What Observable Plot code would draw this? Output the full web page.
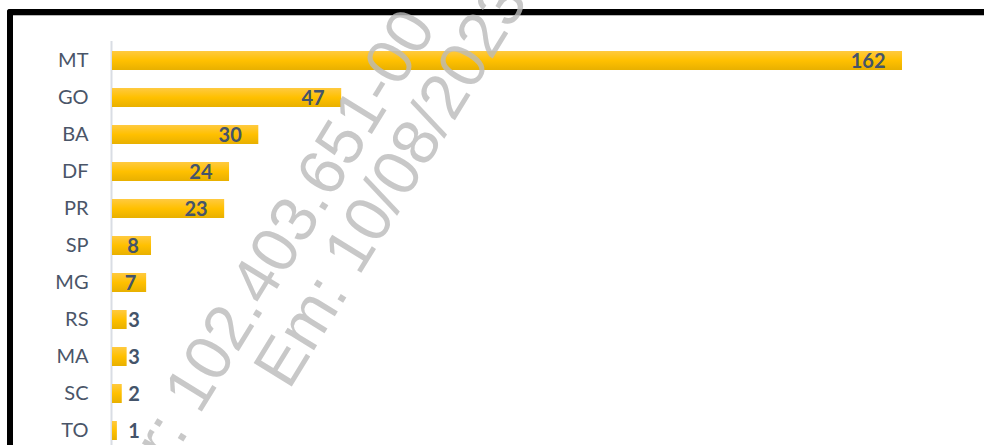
<!DOCTYPE html>
<html>
<head>
<meta charset="utf-8">
<script src="https://cdn.jsdelivr.net/npm/d3@7"></script>
<script src="https://cdn.jsdelivr.net/npm/@observablehq/plot@0.6"></script>
<style>
  html, body { margin: 0; padding: 0; background: #fff; width: 984px; height: 445px; overflow: hidden; }
  #wrap { position: relative; width: 984px; height: 445px; }
  #chart { position: absolute; left: 0; top: 0; }
  #frame { position: absolute; left: 7px; top: 9px; right: -10px; height: 600px;
           border-top: 6px solid #000; border-left: 6px solid #000; border-top-left-radius: 3px;
           box-shadow: inset 0 1px 0 #b8b8b8; pointer-events: none; }
  #wm { position: absolute; left: 0; top: 0; pointer-events: none; }
</style>
</head>
<body>
<div id="wrap">
  <div id="chart"></div>
  <div id="frame"></div>
  <svg id="wm" width="984" height="445">
    <g font-family="Liberation Sans, Arial, sans-serif" font-size="65" fill="#bababa" fill-opacity="0.8">
      <text transform="translate(169,465) rotate(-58.5)">r: 102.403.651-00</text>
      <text transform="translate(289,391) rotate(-58.5)">Em: 10/08/2023</text>
    </g>
  </svg>
</div>
<script>
const states = ["MT", "GO", "BA", "DF", "PR", "SP", "MG", "RS", "MA", "SC", "TO"];
const counts = [162, 47, 30, 24, 23, 8, 7, 3, 3, 2, 1];
const data = states.map((s, i) => ({state: s, n: counts[i]}));

const labelStyle = {fontWeight: "bold", fontSize: 20, fill: "#44546a", fontFamily: "Lato, sans-serif", dy: 1};

const chart = Plot.plot({
  width: 984,
  height: 450,
  marginLeft: 112,
  marginRight: 82,
  marginTop: 41,
  marginBottom: 0,
  style: {fontFamily: "Lato, sans-serif", background: "transparent", overflow: "visible"},
  x: {domain: [0, 162], axis: null},
  y: {domain: states, paddingInner: 0.49, paddingOuter: 0.245, axis: null},
  marks: [
    Plot.ruleX([0], {stroke: "#d9dde4", strokeWidth: 2, dx: -1}),
    Plot.barX(data, {x: "n", y: "state", fill: "url(#barGrad)"}),
    Plot.axisY({tickSize: 0, tickPadding: 24, fontSize: 20, fill: "#4a5568", label: null}),
    Plot.text(data.filter(d => d.n >= 20), {x: "n", y: "state", text: d => String(d.n), textAnchor: "end", dx: -17, ...labelStyle}),
    Plot.text(data.filter(d => d.n >= 5 && d.n < 20), {x: d => d.n / 2, y: "state", text: d => String(d.n), textAnchor: "middle", dx: 1, ...labelStyle}),
    Plot.text(data.filter(d => d.n < 5), {x: d => Math.max(d.n, 3), y: "state", text: d => String(d.n), textAnchor: "start", dx: 1, ...labelStyle})
  ]
});

const defs = d3.select(chart).insert("defs", ":first-child");
const g = defs.append("linearGradient").attr("id", "barGrad").attr("x1", 0).attr("y1", 0).attr("x2", 0).attr("y2", 1);
g.append("stop").attr("offset", "0%").attr("stop-color", "#ffca40");
g.append("stop").attr("offset", "50%").attr("stop-color", "#ffc000");
g.append("stop").attr("offset", "100%").attr("stop-color", "#e8b000");

document.getElementById("chart").appendChild(chart);
</script>
</body>
</html>
